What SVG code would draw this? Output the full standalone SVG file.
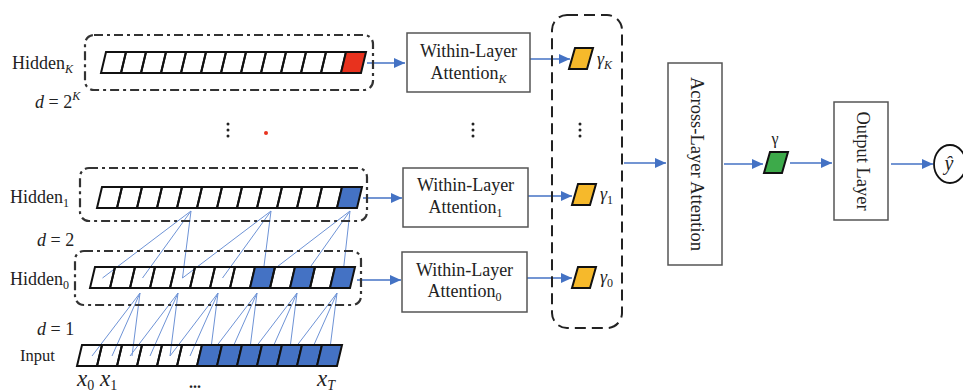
<svg xmlns="http://www.w3.org/2000/svg" xmlns:xlink="http://www.w3.org/1999/xlink" width="963" height="392" viewBox="0 0 963 392">
<style>
.t{font-family:"Liberation Serif",serif;font-size:18px;fill:#222}
.i{font-style:italic}
.sub{font-size:12px}
.cell{stroke:#111;stroke-width:2;stroke-linejoin:miter}
.w{fill:none}.b{fill:#4472C4}.r{fill:#E8321E}
.ddbox{fill:none;stroke:#333;stroke-width:2.2;stroke-dasharray:9 4 3 4}
.dbox{fill:none;stroke:#222;stroke-width:2;stroke-dasharray:11 6}
.box{fill:#fff;stroke:#555;stroke-width:1.5}
.arr{stroke:#4472C4;stroke-width:1.6;fill:none;marker-end:url(#ah)}
.ln{stroke:#6E93D6;stroke-width:1;fill:none}
.gy{fill:#F6B92B;stroke:#111;stroke-width:2}
.gg{fill:#3DAA4A;stroke:#111;stroke-width:2}
.dot{fill:#222}
</style>
<defs>
<marker id="ah" markerUnits="userSpaceOnUse" markerWidth="11" markerHeight="10" refX="11" refY="5" orient="auto"><path d="M0,0 L11,5 L0,10 z" fill="#4472C4"/></marker>
<polygon id="c" points="5,0 25,0 20,21 0,21"/>
<polygon id="p" points="6,0 24,0 18,21 0,21"/>
</defs>

<g id="connectors">
<path class="ln" d="M191,211 L102.5,278 M191,211 L142.5,278 M191,211 L182.5,278 M271,211 L182.5,278 M271,211 L222.5,278 M271,211 L262.5,278 M350,211 L262.5,278 M350,211 L302.5,278 M350,211 L342.5,278"/>
<path class="ln" d="M140,293 L92,356 M140,293 L112,356 M140,293 L132,356 M178,293 L130,356 M178,293 L150,356 M178,293 L170,356 M218,293 L170,356 M218,293 L190,356 M218,293 L210,356 M257,293 L209,356 M257,293 L229,356 M257,293 L249,356 M297,293 L249,356 M297,293 L269,356 M297,293 L289,356 M337,293 L289,356 M337,293 L309,356 M337,293 L329,356"/>
<line class="arr" x1="367" y1="63" x2="405" y2="63"/>
<line class="arr" x1="363" y1="198" x2="402" y2="198"/>
<line class="arr" x1="357" y1="280" x2="401" y2="280"/>
<line class="arr" x1="530" y1="59" x2="570" y2="59"/>
<line class="arr" x1="528" y1="196" x2="572" y2="196"/>
<line class="arr" x1="527" y1="278" x2="572" y2="278"/>
<line class="arr" x1="624" y1="163" x2="666" y2="163"/>
<line class="arr" x1="724" y1="164" x2="763" y2="164"/>
<line class="arr" x1="790" y1="163" x2="832" y2="163"/>
<line class="arr" x1="891" y1="164" x2="933" y2="164"/>
</g>

<g id="hiddenK">
<rect class="ddbox" x="85" y="35" width="288" height="55" rx="9"/>
<g class="cell" transform="translate(101,52)">
<use xlink:href="#c" x="0" class="w"/><use xlink:href="#c" x="20" class="w"/><use xlink:href="#c" x="40" class="w"/><use xlink:href="#c" x="60" class="w"/><use xlink:href="#c" x="80" class="w"/><use xlink:href="#c" x="100" class="w"/><use xlink:href="#c" x="120" class="w"/><use xlink:href="#c" x="140" class="w"/><use xlink:href="#c" x="160" class="w"/><use xlink:href="#c" x="180" class="w"/><use xlink:href="#c" x="200" class="w"/><use xlink:href="#c" x="220" class="w"/><use xlink:href="#c" x="240" class="r"/>
</g>
<text class="t" x="12" y="69">Hidden<tspan class="sub i" dy="4">K</tspan></text>
<text class="t" x="35" y="108"><tspan class="i">d</tspan> = 2<tspan class="sub i" dy="-8">K</tspan></text>
</g>

<g id="hidden1">
<rect class="ddbox" x="80" y="168" width="287" height="53" rx="9"/>
<g class="cell" transform="translate(97,187)">
<use xlink:href="#c" x="0" class="w"/><use xlink:href="#c" x="20" class="w"/><use xlink:href="#c" x="40" class="w"/><use xlink:href="#c" x="60" class="w"/><use xlink:href="#c" x="80" class="w"/><use xlink:href="#c" x="100" class="w"/><use xlink:href="#c" x="120" class="w"/><use xlink:href="#c" x="140" class="w"/><use xlink:href="#c" x="160" class="w"/><use xlink:href="#c" x="180" class="w"/><use xlink:href="#c" x="200" class="w"/><use xlink:href="#c" x="220" class="w"/><use xlink:href="#c" x="240" class="b"/>
</g>
<text class="t" x="10" y="203">Hidden<tspan class="sub" dy="4">1</tspan></text>
<text class="t" x="37" y="246"><tspan class="i">d</tspan> = 2</text>
</g>

<g id="hidden0">
<rect class="ddbox" x="75" y="251" width="286" height="54" rx="9"/>
<g class="cell" transform="translate(90,267)">
<use xlink:href="#c" x="0" class="w"/><use xlink:href="#c" x="20" class="w"/><use xlink:href="#c" x="40" class="w"/><use xlink:href="#c" x="60" class="w"/><use xlink:href="#c" x="80" class="w"/><use xlink:href="#c" x="100" class="w"/><use xlink:href="#c" x="120" class="w"/><use xlink:href="#c" x="140" class="w"/><use xlink:href="#c" x="160" class="b"/><use xlink:href="#c" x="180" class="w"/><use xlink:href="#c" x="200" class="b"/><use xlink:href="#c" x="220" class="w"/><use xlink:href="#c" x="240" class="b"/>
</g>
<text class="t" x="10" y="285">Hidden<tspan class="sub" dy="4">0</tspan></text>
<text class="t" x="37" y="335"><tspan class="i">d</tspan> = 1</text>
</g>

<g id="input">
<g class="cell" transform="translate(77,345)">
<use xlink:href="#c" x="0" class="w"/><use xlink:href="#c" x="20" class="w"/><use xlink:href="#c" x="40" class="w"/><use xlink:href="#c" x="60" class="w"/><use xlink:href="#c" x="80" class="w"/><use xlink:href="#c" x="100" class="w"/><use xlink:href="#c" x="120" class="b"/><use xlink:href="#c" x="140" class="b"/><use xlink:href="#c" x="160" class="b"/><use xlink:href="#c" x="180" class="b"/><use xlink:href="#c" x="200" class="b"/><use xlink:href="#c" x="220" class="b"/><use xlink:href="#c" x="240" class="b"/>
</g>
<text class="t" x="20" y="361" style="font-size:16.5px">Input</text>
<text class="t i" x="77" y="386" style="font-size:23px">x<tspan class="sub" style="font-style:normal;font-size:14px" dy="4">0</tspan></text>
<text class="t i" x="100" y="386" style="font-size:23px">x<tspan class="sub" style="font-style:normal;font-size:14px" dy="4">1</tspan></text>
<text class="t" x="189" y="388" style="font-size:16px;font-weight:bold">...</text>
<text class="t i" x="317" y="386" style="font-size:23px">x<tspan class="sub" style="font-size:14px" dy="4">T</tspan></text>
</g>

<g id="dots">
<circle class="dot" cx="228" cy="124" r="1.5"/><circle class="dot" cx="228" cy="130" r="1.5"/><circle class="dot" cx="228" cy="136" r="1.5"/>
<circle cx="266" cy="133" r="2" fill="#E8321E"/>
<circle class="dot" cx="473" cy="124" r="1.5"/><circle class="dot" cx="473" cy="130" r="1.5"/><circle class="dot" cx="473" cy="136" r="1.5"/>
<circle class="dot" cx="580" cy="124" r="1.5"/><circle class="dot" cx="580" cy="130" r="1.5"/><circle class="dot" cx="580" cy="136" r="1.5"/>
</g>

<g id="withinK">
<rect class="box" x="407" y="33" width="123" height="59"/>
<text class="t" x="468.5" y="57" text-anchor="middle">Within-Layer</text>
<text class="t" x="468.5" y="79" text-anchor="middle">Attention<tspan class="sub i" dy="4">K</tspan></text>
</g>
<g id="within1">
<rect class="box" x="403" y="168" width="125" height="59"/>
<text class="t" x="465.5" y="191" text-anchor="middle">Within-Layer</text>
<text class="t" x="465.5" y="213" text-anchor="middle">Attention<tspan class="sub" dy="4">1</tspan></text>
</g>
<g id="within0">
<rect class="box" x="402" y="252" width="125" height="60"/>
<text class="t" x="464.5" y="276" text-anchor="middle">Within-Layer</text>
<text class="t" x="464.5" y="297" text-anchor="middle">Attention<tspan class="sub" dy="4">0</tspan></text>
</g>

<g id="gammas">
<rect class="dbox" x="552" y="15" width="70" height="313" rx="15"/>
<use xlink:href="#p" class="gy" transform="translate(569,48)"/>
<text class="t i" x="597" y="65">γ<tspan class="sub" dy="4">K</tspan></text>
<use xlink:href="#p" class="gy" transform="translate(572,184)"/>
<text class="t i" x="600" y="200">γ<tspan class="sub" style="font-style:normal" dy="4">1</tspan></text>
<use xlink:href="#p" class="gy" transform="translate(572,267)"/>
<text class="t i" x="600" y="283">γ<tspan class="sub" style="font-style:normal" dy="4">0</tspan></text>
</g>

<g id="across">
<rect class="box" x="668" y="63" width="54" height="202"/>
<text class="t" transform="translate(691,164) rotate(90)" text-anchor="middle" style="font-size:18.5px">Across-Layer Attention</text>
</g>

<g id="gamma">
<use xlink:href="#p" class="gg" transform="translate(764,152)"/>
<text class="t" x="775" y="144" text-anchor="middle" style="font-size:16px">γ</text>
</g>

<g id="output">
<rect class="box" x="834" y="102" width="54" height="118"/>
<text class="t" transform="translate(857,161) rotate(90)" text-anchor="middle" style="font-size:18.5px">Output Layer</text>
</g>

<g id="yhat">
<ellipse cx="950" cy="164" rx="16" ry="19" fill="#fff" stroke="#111" stroke-width="1.8"/>
<text class="t i" x="949" y="170" text-anchor="middle" style="font-size:20px">ŷ</text>
</g>
</svg>
